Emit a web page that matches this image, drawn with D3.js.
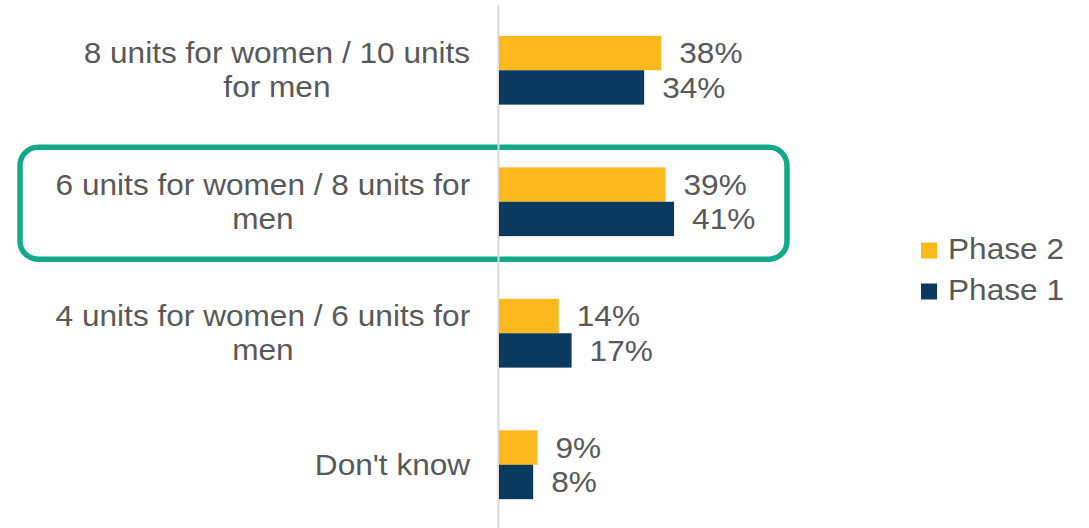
<!DOCTYPE html>
<html>
<head>
<meta charset="utf-8">
<script src="https://cdn.jsdelivr.net/npm/d3@7"></script>
<style>
  body { margin: 0; background: #fff; }
  svg { display: block; font-family: "Liberation Sans", Arial, sans-serif; }
</style>
</head>
<body>
<svg id="chart" width="1089" height="528"></svg>
<script>
// Responses per category, in percent
const categories = [
  "8 units for women / 10 units for men",
  "6 units for women / 8 units for men",
  "4 units for women / 6 units for men",
  "Don't know"
];
const seriesNames = ["Phase 2", "Phase 1"];
const phase2 = [38, 39, 14, 9];
const phase1 = [34, 41, 17, 8];
const highlighted = "6 units for women / 8 units for men";

const colors = { "Phase 2": "#FDB81E", "Phase 1": "#0C3A5F" };
const textColor = "#595959";
const fontSize = 29;
const stretch = 1.09;   // horizontal widening of all text

const svg = d3.select("#chart");
const rows = categories.map((c, i) => ({ cat: c, "Phase 2": phase2[i], "Phase 1": phase1[i] }));

const y = d3.scaleBand().domain(categories).range([4.5, 530.5])
  .paddingInner(0.477).paddingOuter(0.2385);
const ySub = d3.scaleBand().domain(seriesNames).range([0, y.bandwidth()]).padding(0);
const x = d3.scaleLinear().domain([0, 45]).range([499, 499 + 45 * 4.27]);

// highlight frame around the selected category
const hb = y(highlighted);
svg.append("rect")
  .attr("x", 20).attr("y", hb - 20)
  .attr("width", 767).attr("height", y.bandwidth() + 43)
  .attr("rx", 18).attr("ry", 18)
  .attr("fill", "none").attr("stroke", "#12A98B").attr("stroke-width", 5.5);

// vertical category axis (line only)
const axis = svg.append("g").attr("transform", "translate(498,0)")
  .call(d3.axisLeft(y).tickSize(0).tickFormat(""));
axis.select(".domain").attr("stroke", "#d9d9d9").attr("stroke-width", 2);

// bars
const groups = svg.append("g").selectAll("g").data(rows).join("g")
  .attr("transform", d => `translate(0,${y(d.cat)})`);

groups.selectAll("rect").data(d => seriesNames.map(s => ({ s, v: d[s] }))).join("rect")
  .attr("x", x(0))
  .attr("y", d => ySub(d.s))
  .attr("width", d => x(d.v) - x(0))
  .attr("height", ySub.bandwidth())
  .attr("fill", d => colors[d.s]);

// value labels
groups.selectAll("text").data(d => seriesNames.map(s => ({ s, v: d[s] }))).join("text")
  .attr("transform", d => `translate(${x(d.v) + 18},${ySub(d.s) + ySub.bandwidth() / 2}) scale(${stretch},1)`)
  .attr("dy", "0.35em")
  .attr("font-size", fontSize)
  .attr("fill", textColor)
  .text(d => d.v + "%");

// category labels: wrapped, lines centred inside a right-aligned block
const measurer = svg.append("text").attr("font-size", fontSize).attr("visibility", "hidden");
const measure = t => { measurer.text(t); return measurer.node().getComputedTextLength(); };
const maxLocal = 425 / stretch;
const spaceW = measure("a b") - measure("ab");

function wrap(label) {
  const words = label.split(" ");
  const lines = [];
  let cur = "";
  words.forEach(w => {
    const test = cur ? cur + " " + w : w;
    if (cur && measure(test) > maxLocal) { lines.push(cur); cur = w; }
    else cur = test;
  });
  lines.push(cur);
  return lines;
}

const labelRight = 479;
const lineH = 34;
categories.forEach(c => {
  const lines = wrap(c);
  // each line is laid out with its trailing space
  const widths = lines.map(l => measure(l) + spaceW);
  const blockW = d3.max(widths);
  const cy = y(c) + y.bandwidth() / 2;
  const g = svg.append("g")
    .attr("transform", `translate(${labelRight},${cy}) scale(${stretch},1)`);
  const centre = -blockW / stretch / 2 * stretch;
  lines.forEach((l, i) => {
    const w = widths[i];
    g.append("text")
      .attr("x", centre - w / 2)
      .attr("y", (i - (lines.length - 1) / 2) * lineH)
      .attr("dy", "0.35em")
      .attr("font-size", fontSize)
      .attr("fill", textColor)
      .text(l);
  });
});
measurer.remove();

// legend
const legend = svg.append("g").selectAll("g").data(seriesNames).join("g")
  .attr("transform", (d, i) => `translate(921,${250.5 + i * 41})`);
legend.append("rect")
  .attr("x", 0).attr("y", -8).attr("width", 16).attr("height", 16)
  .attr("fill", d => colors[d]);
legend.append("text")
  .attr("transform", `translate(27,0) scale(${stretch},1)`)
  .attr("dy", "0.3em")
  .attr("font-size", fontSize)
  .attr("fill", textColor)
  .text(d => d);
</script>
</body>
</html>
